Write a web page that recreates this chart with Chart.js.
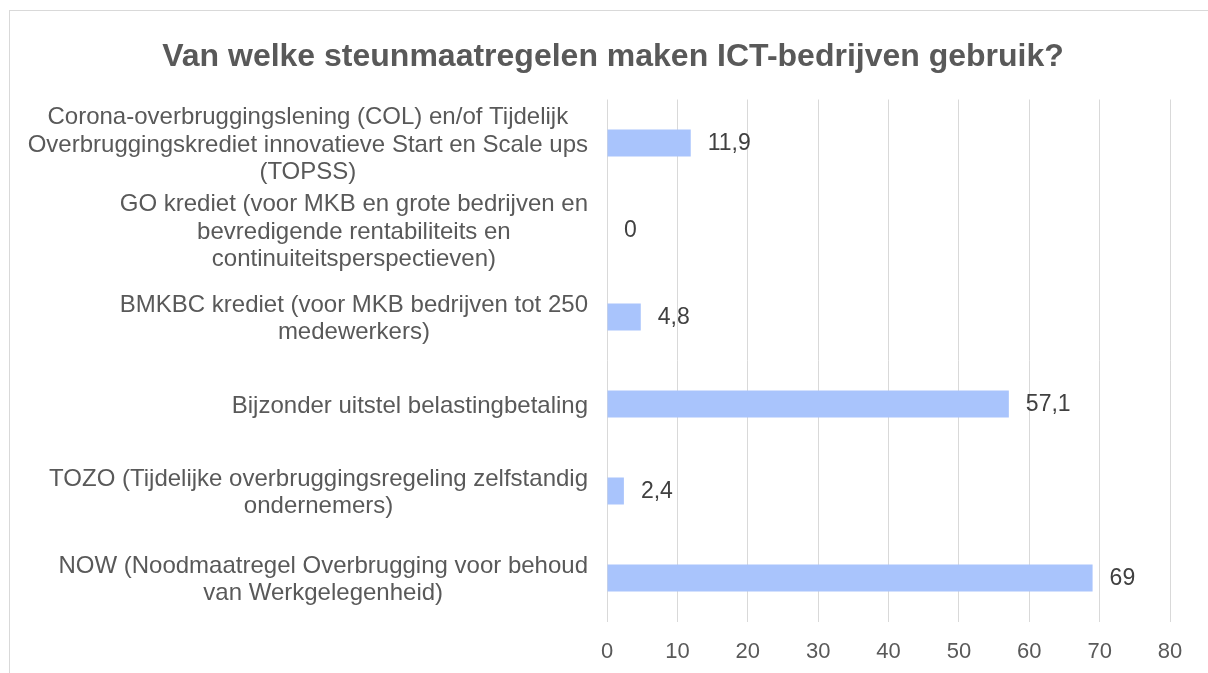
<!DOCTYPE html>
<html>
<head>
<meta charset="utf-8">
<script src="https://cdn.jsdelivr.net/npm/chart.js@4.4.0/dist/chart.umd.min.js"></script>
<style>
  html, body { margin: 0; padding: 0; overflow: hidden; background: #fff; }
  #wrap { position: absolute; left: 0; top: 0; width: 1226px; height: 673px; }
</style>
</head>
<body>
<div id="wrap"><canvas id="chart"></canvas></div>
<script>
// Categorieën (meerdere regels per label)
const categories = [
    ['Corona-overbruggingslening (COL) en/of Tijdelijk', 'Overbruggingskrediet innovatieve Start en Scale ups', '(TOPSS)'],
    ['GO krediet (voor MKB en grote bedrijven en', 'bevredigende rentabiliteits en', 'continuiteitsperspectieven)'],
    ['BMKBC krediet (voor MKB bedrijven tot 250', 'medewerkers)'],
    ['Bijzonder uitstel belastingbetaling'],
    ['TOZO (Tijdelijke overbruggingsregeling zelfstandig', 'ondernemers)'],
    ['NOW (Noodmaatregel Overbrugging voor behoud', 'van Werkgelegenheid)']
];
// Percentages
const values = [11.9, 0, 4.8, 57.1, 2.4, 69];
const xTicks = [0, 10, 20, 30, 40, 50, 60, 70, 80];

const FONT = '"Liberation Sans", Arial, sans-serif';

// Rand en witte achtergrond
const framePlugin = {
    id: 'frame',
    beforeDraw(chart) {
        const c = chart.ctx;
        c.save();
        c.fillStyle = '#fff';
        c.fillRect(0, 0, chart.width, chart.height);
        c.strokeStyle = '#d9d9d9';
        c.lineWidth = 1;
        c.strokeRect(9.5, 10.5, 1400, 1000);
        c.restore();
    }
};

// Labels van de categorie-as, per blok gecentreerd en rechts uitgelijnd
const catLabelPlugin = {
    id: 'catLabels',
    afterDraw(chart) {
        const c = chart.ctx;
        const yScale = chart.scales.y;
        const right = chart.chartArea.left - 19;
        const lineH = 27.5;
        c.save();
        c.font = '24px ' + FONT;
        c.fillStyle = '#595959';
        c.textAlign = 'center';
        c.textBaseline = 'middle';
        categories.forEach((lines, i) => {
            const y = yScale.getPixelForTick(i) + 2;
            const w = Math.max(...lines.map(l => c.measureText(l).width));
            const cx = right - w / 2;
            lines.forEach((l, j) => {
                c.fillText(l, cx, y + (j - (lines.length - 1) / 2) * lineH);
            });
        });
        c.restore();
    }
};

// Waardelabels naast de balken
const valueLabelPlugin = {
    id: 'valueLabels',
    afterDatasetsDraw(chart) {
        const c = chart.ctx;
        const meta = chart.getDatasetMeta(0);
        c.save();
        c.font = '23px ' + FONT;
        c.fillStyle = '#404040';
        c.textAlign = 'left';
        c.textBaseline = 'middle';
        meta.data.forEach((bar, i) => {
            c.fillText(String(values[i]).replace('.', ','), bar.x + 17, bar.y + 1);
        });
        c.restore();
    }
};

const ctx = document.getElementById('chart').getContext('2d');
new Chart(ctx, {
    type: 'bar',
    data: {
        labels: categories,
        datasets: [{
            data: values,
            backgroundColor: '#a9c4fc',
            barPercentage: 0.31,
            categoryPercentage: 1.0
        }]
    },
    options: {
        indexAxis: 'y',
        responsive: true,
        maintainAspectRatio: false,
        animation: false,
        layout: { padding: { left: 56, right: 56, top: 0, bottom: 0 } },
        plugins: {
            legend: { display: false },
            tooltip: { enabled: false },
            title: {
                display: true,
                text: 'Van welke steunmaatregelen maken ICT-bedrijven gebruik?',
                color: '#595959',
                font: { family: FONT, size: 32, weight: 'bold', lineHeight: 1.2 },
                padding: { top: 37.8, bottom: 23.3 }
            }
        },
        scales: {
            x: {
                min: 0,
                max: 80,
                afterBuildTicks: (scale) => { scale.ticks = xTicks.map(v => ({ value: v })); },
                afterFit: (scale) => { scale.height = 51.5; },
                grid: { color: '#d9d9d9', lineWidth: 1, drawTicks: false },
                border: { display: false },
                ticks: {
                    color: '#595959',
                    padding: 17,
                    font: { family: FONT, size: 22 }
                }
            },
            y: {
                afterFit: (scale) => { scale.width = 551; },
                grid: { display: false, drawTicks: false },
                border: { display: false },
                ticks: { display: false }
            }
        }
    },
    plugins: [framePlugin, catLabelPlugin, valueLabelPlugin]
});
</script>
</body>
</html>
